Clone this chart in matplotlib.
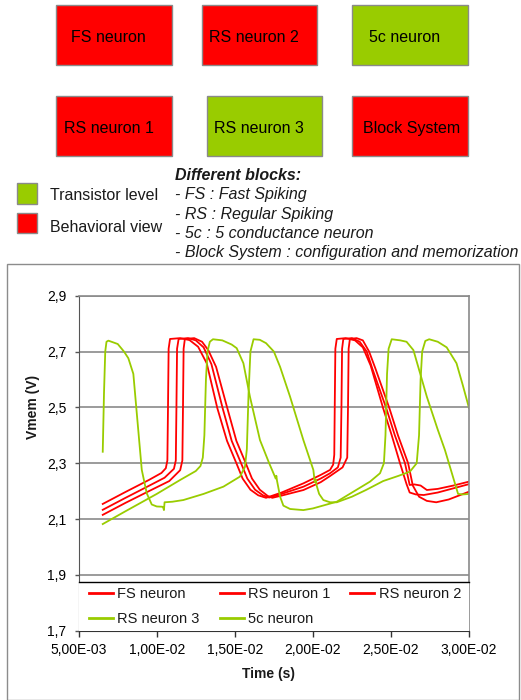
import matplotlib
matplotlib.use("Agg")
import matplotlib.pyplot as plt
from matplotlib.patches import Rectangle
from matplotlib.lines import Line2D
from matplotlib.ticker import FuncFormatter, FixedLocator

plt.rcParams['font.family'] = ['Liberation Sans', 'DejaVu Sans']

# ---------------- data ----------------
box_labels = ["FS neuron", "RS neuron 2", "5c neuron", "RS neuron 1", "RS neuron 3", "Block System"]
box_kind = ["behavioral", "behavioral", "transistor", "behavioral", "transistor", "behavioral"]
key_labels = ["Transistor level", "Behavioral view"]
blocks_title = "Different blocks:"
blocks_lines = ["- FS : Fast Spiking", "- RS : Regular Spiking",
                "- 5c : 5 conductance neuron",
                "- Block System : configuration and memorization"]

series_names = ["FS neuron", "RS neuron 1", "RS neuron 2", "RS neuron 3", "5c neuron"]

fs_t = [6.54e-3, 8.0e-3, 9.5e-3, 1.03e-2, 1.058e-2, 1.068e-2, 1.072e-2, 1.076e-2, 1.085e-2, 1.15e-2,
        1.21e-2, 1.265e-2, 1.32e-2, 1.388e-2, 1.45e-2, 1.51e-2, 1.55e-2, 1.60e-2, 1.65e-2, 1.70e-2,
        1.80e-2, 1.94e-2, 2.05e-2, 2.11e-2, 2.13e-2, 2.137e-2, 2.14e-2, 2.144e-2, 2.153e-2, 2.21e-2,
        2.27e-2, 2.32e-2, 2.37e-2, 2.45e-2, 2.505e-2, 2.558e-2, 2.60e-2, 2.62e-2, 2.66e-2, 2.71e-2,
        2.80e-2, 2.90e-2, 3.00e-2]
fs_v = [2.154, 2.197, 2.240, 2.265, 2.282, 2.31, 2.50, 2.71, 2.745, 2.748,
        2.741, 2.717, 2.658, 2.497, 2.38, 2.30, 2.245, 2.205, 2.185, 2.176,
        2.195, 2.228, 2.258, 2.276, 2.295, 2.33, 2.50, 2.71, 2.745, 2.748,
        2.74, 2.715, 2.65, 2.497, 2.40, 2.30, 2.225, 2.195, 2.188, 2.186,
        2.195, 2.21, 2.225]

rs1_t = [6.54e-3, 8.0e-3, 9.5e-3, 1.05e-2, 1.11e-2, 1.122e-2, 1.126e-2, 1.13e-2, 1.14e-2, 1.20e-2,
         1.25e-2, 1.30e-2, 1.35e-2, 1.422e-2, 1.48e-2, 1.54e-2, 1.58e-2, 1.63e-2, 1.68e-2, 1.72e-2,
         1.80e-2, 1.94e-2, 2.05e-2, 2.11e-2, 2.16e-2, 2.178e-2, 2.183e-2, 2.187e-2, 2.195e-2, 2.25e-2,
         2.30e-2, 2.345e-2, 2.38e-2, 2.47e-2, 2.525e-2, 2.59e-2, 2.62e-2, 2.65e-2, 2.69e-2, 2.73e-2,
         2.80e-2, 2.90e-2, 3.00e-2]
rs1_v = [2.133, 2.176, 2.219, 2.248, 2.28, 2.31, 2.50, 2.71, 2.745, 2.748,
         2.74, 2.715, 2.655, 2.497, 2.38, 2.30, 2.245, 2.205, 2.185, 2.177,
         2.19, 2.216, 2.245, 2.264, 2.285, 2.32, 2.50, 2.71, 2.745, 2.748,
         2.735, 2.70, 2.64, 2.497, 2.40, 2.30, 2.222, 2.224, 2.220, 2.204,
         2.208, 2.22, 2.234]

rs2_t = [6.54e-3, 8.0e-3, 9.5e-3, 1.08e-2, 1.15e-2, 1.164e-2, 1.168e-2, 1.172e-2, 1.18e-2, 1.24e-2,
         1.29e-2, 1.33e-2, 1.38e-2, 1.452e-2, 1.51e-2, 1.57e-2, 1.61e-2, 1.66e-2, 1.71e-2, 1.74e-2,
         1.80e-2, 1.94e-2, 2.05e-2, 2.11e-2, 2.19e-2, 2.22e-2, 2.225e-2, 2.229e-2, 2.237e-2, 2.28e-2,
         2.32e-2, 2.36e-2, 2.40e-2, 2.49e-2, 2.545e-2, 2.61e-2, 2.64e-2, 2.68e-2, 2.73e-2, 2.79e-2,
         2.87e-2, 3.00e-2]
rs2_v = [2.115, 2.158, 2.20, 2.236, 2.275, 2.31, 2.50, 2.71, 2.745, 2.748,
         2.735, 2.705, 2.645, 2.497, 2.38, 2.30, 2.245, 2.205, 2.183, 2.176,
         2.184, 2.204, 2.232, 2.254, 2.285, 2.32, 2.50, 2.71, 2.745, 2.748,
         2.74, 2.70, 2.64, 2.497, 2.40, 2.30, 2.22, 2.18, 2.165, 2.16,
         2.17, 2.198]

rs3_t = [6.54e-3, 8.0e-3, 1.0e-2, 1.15e-2, 1.25e-2, 1.28e-2, 1.295e-2, 1.305e-2, 1.315e-2, 1.325e-2,
         1.34e-2, 1.36e-2, 1.42e-2, 1.48e-2, 1.512e-2, 1.555e-2, 1.597e-2, 1.661e-2, 1.72e-2, 1.762e-2,
         1.766e-2, 1.770e-2, 1.79e-2, 1.811e-2, 1.854e-2, 1.939e-2, 2.0e-2, 2.153e-2, 2.366e-2, 2.43e-2,
         2.455e-2, 2.465e-2, 2.475e-2, 2.485e-2, 2.505e-2, 2.56e-2, 2.60e-2, 2.644e-2, 2.73e-2, 2.80e-2,
         2.846e-2, 2.93e-2, 2.96e-2, 3.0e-2]
rs3_v = [2.082, 2.128, 2.19, 2.24, 2.272, 2.29, 2.32, 2.40, 2.60, 2.70,
         2.735, 2.744, 2.74, 2.725, 2.712, 2.658, 2.538, 2.383, 2.30, 2.245,
         2.255, 2.238, 2.18, 2.148, 2.136, 2.132, 2.138, 2.162, 2.234, 2.264,
         2.30, 2.40, 2.62, 2.71, 2.744, 2.74, 2.735, 2.705, 2.538, 2.42,
         2.347, 2.19, 2.188, 2.19]

c5_t = [6.54e-3, 6.62e-3, 6.70e-3, 6.78e-3, 6.9e-3, 7.5e-3, 7.9e-3, 8.18e-3, 8.5e-3, 8.72e-3,
        9.04e-3, 9.36e-3, 9.68e-3, 1.0e-2, 1.036e-2, 1.042e-2, 1.046e-2, 1.05e-2, 1.1e-2, 1.17e-2,
        1.30e-2, 1.427e-2, 1.533e-2, 1.565e-2, 1.577e-2, 1.588e-2, 1.60e-2, 1.62e-2, 1.66e-2, 1.70e-2,
        1.75e-2, 1.79e-2, 1.854e-2, 1.939e-2, 2.003e-2, 2.012e-2, 2.018e-2, 2.024e-2, 2.04e-2, 2.067e-2,
        2.11e-2, 2.153e-2, 2.25e-2, 2.34e-2, 2.45e-2, 2.55e-2, 2.622e-2, 2.665e-2, 2.68e-2, 2.69e-2,
        2.70e-2, 2.72e-2, 2.745e-2, 2.80e-2, 2.857e-2, 2.92e-2, 2.96e-2, 3.0e-2]
c5_v = [2.341, 2.55, 2.70, 2.735, 2.739, 2.727, 2.70, 2.676, 2.62, 2.479,
        2.276, 2.192, 2.152, 2.145, 2.144, 2.140, 2.132, 2.160, 2.162, 2.168,
        2.19, 2.216, 2.252, 2.287, 2.35, 2.55, 2.70, 2.744, 2.742, 2.73,
        2.70, 2.645, 2.538, 2.383, 2.276, 2.232, 2.242, 2.22, 2.19, 2.168,
        2.16, 2.16, 2.18, 2.204, 2.236, 2.255, 2.27, 2.30, 2.40, 2.60,
        2.70, 2.738, 2.744, 2.735, 2.715, 2.658, 2.58, 2.498]

y_ticks = [1.7, 1.9, 2.1, 2.3, 2.5, 2.7, 2.9]
x_ticks = [5e-3, 1e-2, 1.5e-2, 2e-2, 2.5e-2, 3e-2]
x_label = "Time (s)"
y_label = "Vmem (V)"

# ---------------- layout ----------------
W, H = 521, 700
RED = "#FF0000"
GREEN = "#99CC00"
TXT = "#1a1a1a"

fig = plt.figure(figsize=(W / 100, H / 100), dpi=100)


def fx(x):
    return x / W


def fy(y):
    return 1 - y / H


def rect_px(x0, y0, x1, y1, **kw):
    r = Rectangle((fx(x0), fy(y1)), (x1 - x0) / W, (y1 - y0) / H,
                  transform=fig.transFigure, **kw)
    fig.add_artist(r)
    return r


box_geom = [(56, 5, 171.7, 65), (201.7, 5, 316.7, 65), (352.3, 5, 468.3, 65),
            (56, 95.7, 171.7, 156), (206.7, 95.7, 322.3, 156), (352.3, 95.7, 468.3, 156)]
box_text_x = [71, 209, 369, 64, 214, 362.7]
for lab, kind, (x0, y0, x1, y1), tx in zip(box_labels, box_kind, box_geom, box_text_x):
    rect_px(x0, y0, x1, y1, facecolor=RED if kind == "behavioral" else GREEN,
            edgecolor="#8a8a8a", linewidth=1.0)
    fig.text(fx(tx), fy((y0 + y1) / 2 + 3), lab, fontsize=11.5, color="black",
             ha="left", va="center")

# colour key
rect_px(16.7, 183.3, 37.3, 204, facecolor=GREEN, edgecolor="#8a8a8a", linewidth=1.0)
rect_px(16.7, 213.3, 37.3, 233.3, facecolor=RED, edgecolor="#8a8a8a", linewidth=1.0)
fig.text(fx(50), fy(195.5), key_labels[0], fontsize=11.5, color=TXT, ha="left", va="center")
fig.text(fx(50), fy(227), key_labels[1], fontsize=11.5, color=TXT, ha="left", va="center")

# block description
fig.text(fx(175), fy(176), blocks_title, fontsize=11.5, fontweight="bold", fontstyle="italic",
         color=TXT, ha="left", va="center")
for i, s in enumerate(blocks_lines):
    fig.text(fx(175), fy(195 + 19.2 * i), s, fontsize=11.5, fontstyle="italic",
             color=TXT, ha="left", va="center")

# chart frame
rect_px(7.3, 264, 518.5, 699.5, facecolor="none", edgecolor="#8c8c8c", linewidth=1.0)

# axes
ax_l, ax_r, ax_t, ax_b = 78.7, 469, 295.7, 630.7
ax_w, ax_h = ax_r - ax_l, ax_b - ax_t
ax = fig.add_axes([fx(ax_l), fy(ax_b), ax_w / W, ax_h / H])
ax.set_xlim(5e-3, 3e-2)
ax.set_ylim(1.7, 2.9)
ax.yaxis.set_major_locator(FixedLocator(y_ticks))
ax.xaxis.set_major_locator(FixedLocator(x_ticks))
ax.yaxis.set_major_formatter(FuncFormatter(lambda v, p: f"{v:.1f}".replace(".", ",")))
ax.xaxis.set_major_formatter(FuncFormatter(lambda v, p: f"{v:.2E}".replace(".", ",")))
ax.yaxis.grid(True, color="#8a8a8a", linewidth=1.2)
ax.set_axisbelow(True)
for side in ("top", "right"):
    ax.spines[side].set_color("#8a8a8a")
    ax.spines[side].set_linewidth(1.2)
ax.spines["left"].set_color("#555555")
ax.spines["bottom"].set_color("#333333")
ax.tick_params(axis="y", direction="out", length=3, width=1, color="#555555",
               labelsize=10, pad=6, labelcolor="black")
ax.tick_params(axis="x", direction="out", length=4, width=1, color="#333333",
               labelsize=10, pad=4.5, labelcolor="black")

series = [(fs_t, fs_v, RED), (rs1_t, rs1_v, RED), (rs2_t, rs2_v, RED),
          (rs3_t, rs3_v, GREEN), (c5_t, c5_v, GREEN)]
handles = []
for (t, v, c), name in zip(series, series_names):
    ax.plot(t, v, color=c, linewidth=1.3, solid_joinstyle="round")
    handles.append(Line2D([], [], color=c, linewidth=2.0, label=name))

# legend area
leg_top = 581.7
leg_h = (ax_b - leg_top) / ax_h
ax.add_patch(Rectangle((0, 0), 1, leg_h, transform=ax.transAxes, facecolor="white",
                       edgecolor="none", zorder=5))
ax.plot([0, 1], [leg_h, leg_h], transform=ax.transAxes, color="black", linewidth=1.0,
        zorder=6, clip_on=False)
order = [0, 3, 1, 4, 2]
lx0 = (89 - ax_l) / ax_w
lx1 = (461 - ax_l) / ax_w
leg = ax.legend([handles[i] for i in order], [series_names[i] for i in order],
                ncol=3, loc="center", bbox_to_anchor=(lx0, 0, lx1 - lx0, leg_h), mode="expand",
                frameon=False, fontsize=10.5, handlelength=1.65, handletextpad=0.3,
                borderpad=0.0, borderaxespad=0.0, labelspacing=0.75)
leg.set_zorder(7)
for t in leg.get_texts():
    t.set_color(TXT)

fig.text(fx(33), fy(406.7), y_label, fontsize=10, fontweight="bold", rotation=90,
         ha="center", va="center", color=TXT)
fig.text(fx(268), fy(674), x_label, fontsize=10, fontweight="bold",
         ha="center", va="center", color=TXT)

fig.savefig("out.png", dpi=100)
